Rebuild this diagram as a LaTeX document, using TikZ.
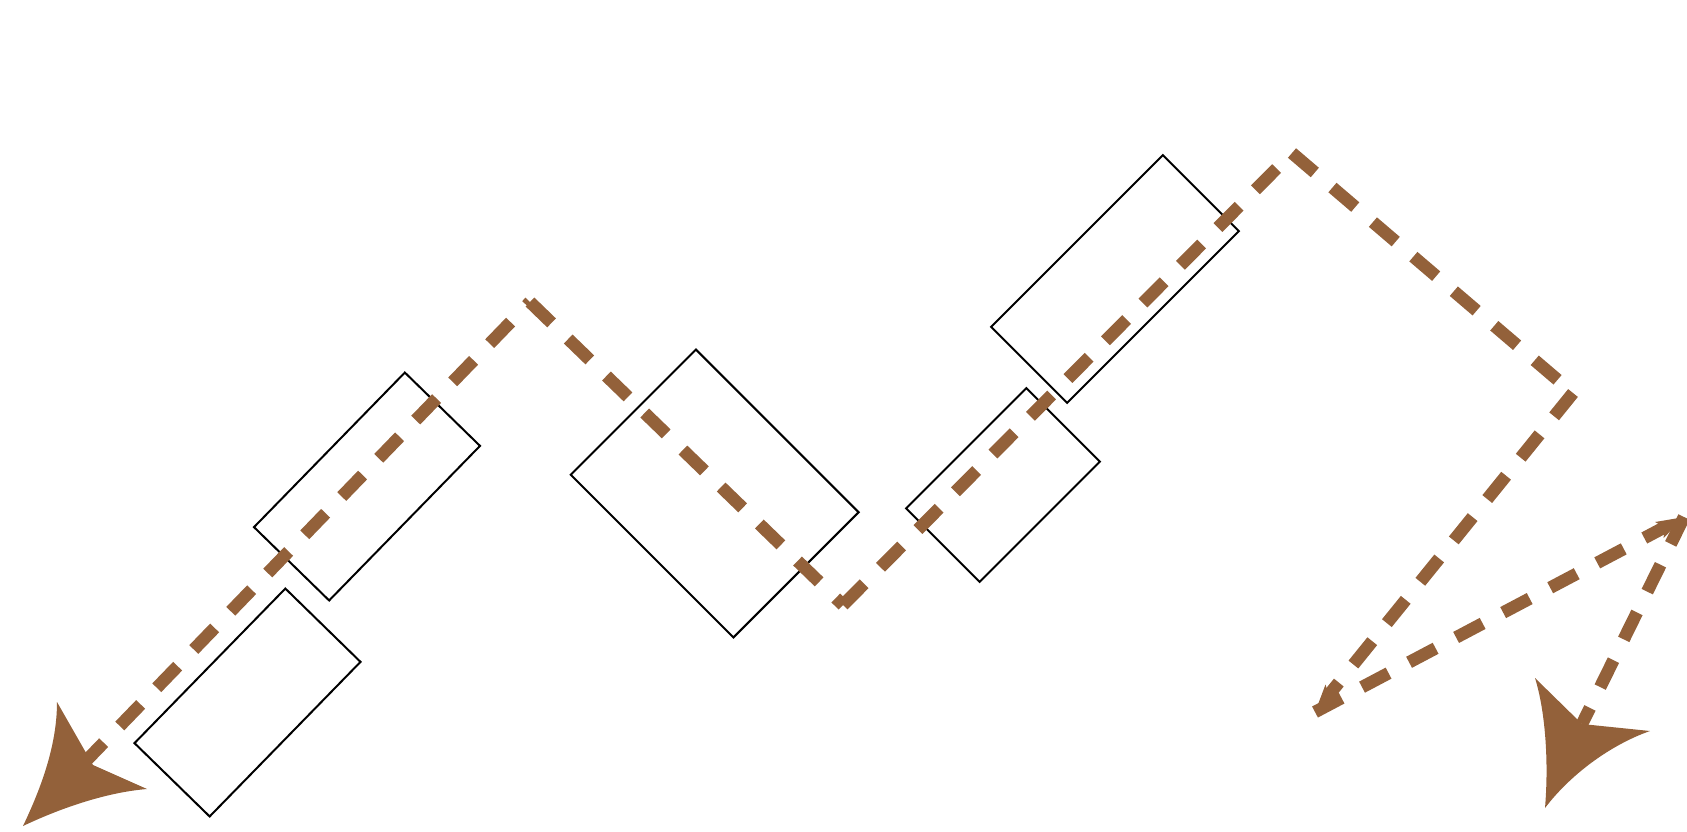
\documentclass[tikz,border=0pt]{standalone}
\usetikzlibrary{arrows.meta,calc}
\definecolor{flowbrown}{RGB}{147,97,58}
\tikzset{
  box/.style={draw=black, line width=2pt, inner sep=0pt, outer sep=0pt},
  flow/.style={draw=flowbrown, line width=12.5pt, dash pattern=on 30pt off 23.2pt},
  smalltip/.style={-{Stealth[length=27pt,width=17pt,inset=5pt]}},
  bigtip/.style={fill=flowbrown, draw=none},
}
\begin{document}
\begin{tikzpicture}[x=1pt,y=-1pt]
\useasboundingbox (0,0) rectangle (1687,831);
% rectangles
\node[box, minimum width=216pt, minimum height=105pt, rotate=45.7] (r1) at (367,486.5) {};
\node[box, minimum width=216pt, minimum height=105pt, rotate=45.7] (r2) at (247.5,702.5) {};
\node[box, minimum width=177pt, minimum height=230pt, rotate=45] (r3) at (714.7,493.5) {};
\node[box, minimum width=243pt, minimum height=107.5pt, rotate=45] (r4) at (1115,279) {};
\node[box, minimum width=170pt, minimum height=104pt, rotate=45] (r5) at (1003,485) {};
% path points
\coordinate (A) at (23,826);
\coordinate (B) at (530,302);
\coordinate (C) at (843,605);
\coordinate (D) at (1292,153);
\coordinate (E) at (1573,393);
\coordinate (F) at (1315,712);
\coordinate (G) at (1684,517);
\coordinate (N7) at (1582,724);
\coordinate (H) at (1545,808);
\coordinate (S1) at ($(A)!86pt!(B)$);
% dashed connectors
\draw[flow] (S1) -- (B);
\draw[flow] (B) -- (C);
\draw[flow] (C) -- (D);
\draw[flow] (D) -- (E);
\draw[flow, smalltip] (E) -- (F);
\draw[flow, smalltip] (F) -- (G);
\draw[flow] (G) -- (N7);
% big arrow heads
\coordinate (LW1) at (57,702);
\coordinate (LN) at (93,765);
\coordinate (LW2) at (147,789);
\fill[bigtip] (A) .. controls (45,780) and (57,740) .. (LW1) -- (LN) -- (LW2)
   .. controls (110,792) and (65,806) .. (A) -- cycle;
\coordinate (RW1) at (1535,678);
\coordinate (RW2) at (1650,731);
\fill[bigtip] (H) .. controls (1549,760) and (1545,710) .. (RW1) -- (N7) -- (RW2)
   .. controls (1610,745) and (1570,775) .. (H) -- cycle;
\end{tikzpicture}
\end{document}
